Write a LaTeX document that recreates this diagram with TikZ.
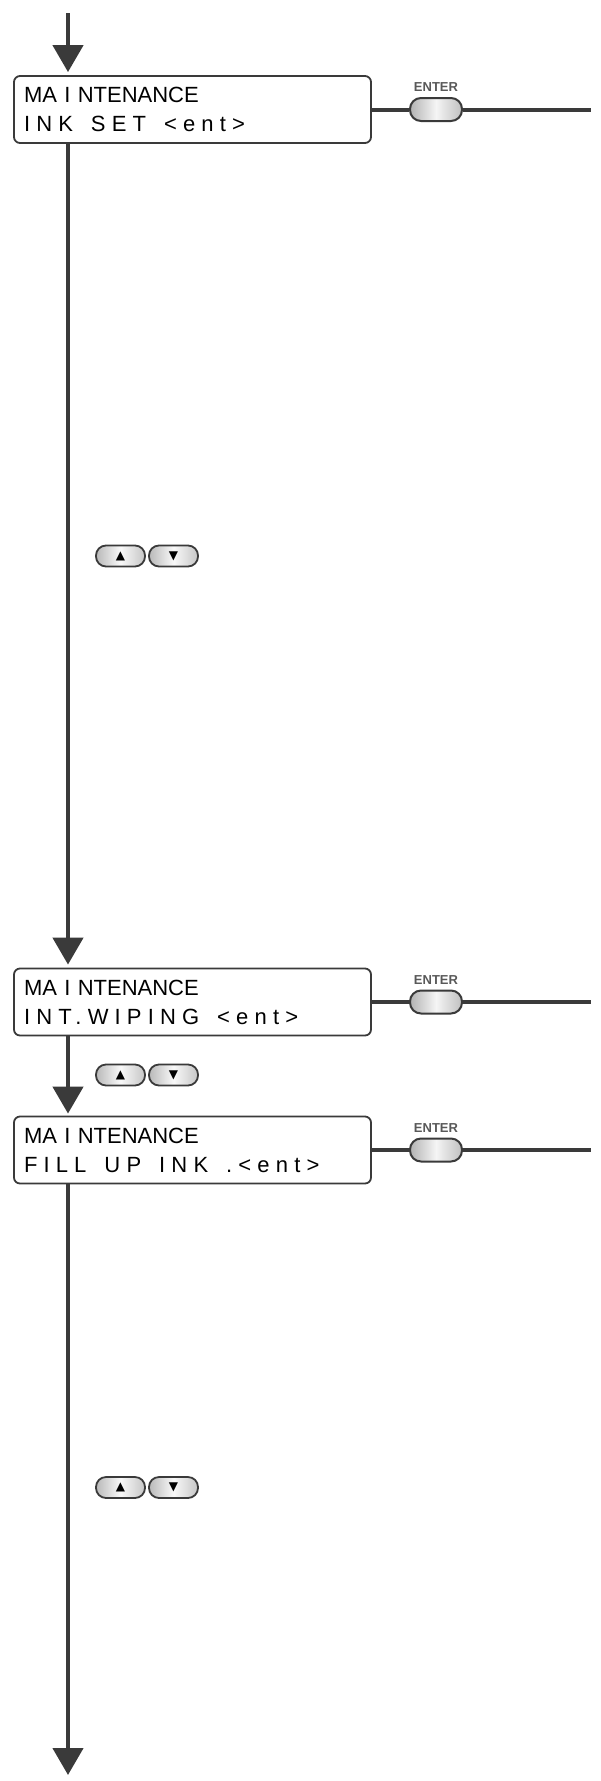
\documentclass[tikz,border=0pt]{standalone}
\usepackage{fontspec}
\setmainfont{Liberation Sans}
\newfontfamily\lcdwide[LetterSpace=28]{Liberation Sans}
\newfontfamily\symfont{DejaVu Sans}
\newcommand\gap{\hspace*{18pt}}
\usetikzlibrary{arrows.meta,positioning}
\definecolor{linegray}{HTML}{3A3A3A}

\begin{document}
\begin{tikzpicture}[x=1pt,y=-1pt,
  flow/.style={linegray,line width=4.5pt,-{Triangle[width=30pt,length=27pt]}},
  wire/.style={linegray,line width=4pt},
  lcd/.style={draw=linegray,line width=1.8pt,rounded corners=6pt,fill=white,
    minimum width=357pt,minimum height=67pt,text width=337pt,inner xsep=10pt,inner ysep=0pt,
    align=left,font=\fontsize{22}{29}\selectfont},
  enterkey/.style={draw=linegray,line width=2pt,rounded corners=11pt,
    minimum width=52pt,minimum height=23pt,inner sep=0pt,
    left color=gray!60,right color=gray!50,middle color=gray!8},
  enterlbl/.style={font=\bfseries\fontsize{13}{13}\selectfont,text=gray!70!black,inner sep=0pt,above=5pt of #1},
  arrowkey/.style={draw=linegray,line width=1.8pt,rounded corners=10pt,
    minimum width=49pt,minimum height=21pt,inner sep=0pt,
    left color=gray!55,right color=gray!45,middle color=gray!5,font=\symfont\fontsize{12}{12}\selectfont}]
\useasboundingbox (0,0) rectangle (601,1781);

% displays
\node[lcd] (b1) at (192.5,109.5) {MA I NTENANCE\\{\lcdwide INK\gap SET\gap <ent>}};
\node[lcd] (b2) at (192.5,1002) {MA I NTENANCE\\{\lcdwide INT.WIPING\gap <ent>}};
\node[lcd] (b3) at (192.5,1150) {MA I NTENANCE\\{\lcdwide FILL\gap UP\gap INK\gap .<ent>}};

% ENTER keys
\foreach \i/\y in {1/109.5,2/1002,3/1150}{
  \node[enterkey] (ent\i) at (436,\y) {};
  \node[enterlbl=ent\i] (entl\i) {ENTER};
  \coordinate (tail\i) at (591,\y);
  \draw[wire] (b\i.east) -- (ent\i.west);
  \draw[wire] (ent\i.east) -- (tail\i);
}

% up/down keys
\foreach \i/\y in {1/556,2/1075,3/1487.5}{
  \node[arrowkey] (up\i) at (120.5,\y) {▲};
  \node[arrowkey] (dn\i) at (173.5,\y) {▼};
}

% main flow
\coordinate (top) at (68,13);
\coordinate (end) at (68,1775);
\draw[flow,shorten >=3pt] (top) -- (b1.north -| top);
\draw[flow,shorten >=3pt] (b1.south -| top) -- (b2.north -| top);
\draw[flow,shorten >=2pt] (b2.south -| top) -- (b3.north -| top);
\draw[flow] (b3.south -| top) -- (end);
\end{tikzpicture}
\end{document}
